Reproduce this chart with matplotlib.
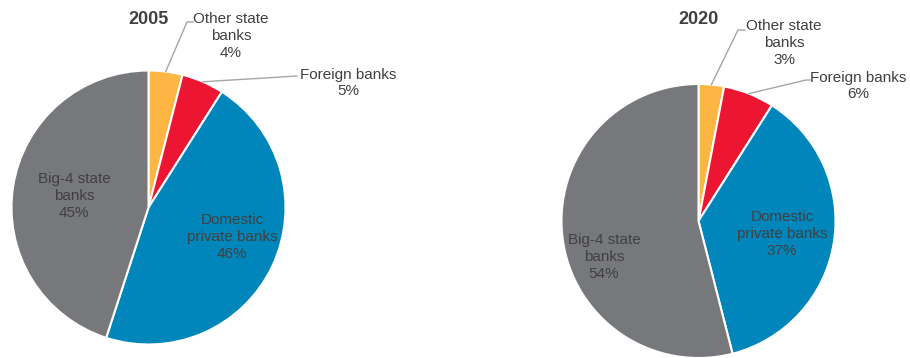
import numpy as np
import matplotlib.pyplot as plt

plt.rcParams['font.family'] = ['Liberation Sans', 'DejaVu Sans']

categories = ['Other state\nbanks', 'Foreign banks', 'Domestic\nprivate banks', 'Big-4 state\nbanks']
years = ['2005', '2020']
shares_2005 = [4, 5, 46, 45]
shares_2020 = [3, 6, 37, 54]
colors = ['#FDB643', '#EC1532', '#0086BA', '#77787B']

text_color = '#404040'

fig = plt.figure(figsize=(9.1, 3.58), dpi=100)
ax = fig.add_axes([0, 0, 1, 1])

R = 137
# layout per pie: centre, label centres, leader elbows (pixel coords, y from top)
layouts = [
    dict(center=(148.5, 207.5),
         labels=[(231, 36), (348, 83), (232, 237), (74, 196)],
         leaders={0: [(187, 22), (193, 22)], 1: [(297, 76)]}),
    dict(center=(698.5, 221),
         labels=[(784, 43), (858, 86), (782, 234), (604, 257)],
         leaders={0: [(738, 30), (745, 30)], 1: [(806, 80), (810, 80)]}),
]


def flip(p):
    return (p[0], 358 - p[1])


for year, shares, lay in zip(years, [shares_2005, shares_2020], layouts):
    cx, cy = flip(lay['center'])
    wedges, _ = ax.pie(shares, colors=colors, startangle=90, counterclock=False,
                       center=(cx, cy), radius=R,
                       wedgeprops=dict(edgecolor='white', linewidth=1.5))
    ax.text(cx, 358 - 20, year, ha='center', va='center', fontsize=13,
            fontweight='bold', color=text_color)

    total = sum(shares)
    cum = np.cumsum([0] + shares)
    for i, (name, val) in enumerate(zip(categories, shares)):
        tx, ty = flip(lay['labels'][i])
        ax.text(tx, ty, f'{name}\n{val}%', ha='center', va='center',
                fontsize=11, color=text_color, linespacing=1.25)
        if i in lay['leaders']:
            mid = (cum[i] + val / 2) / total * 360
            sx = cx + R * np.sin(np.radians(mid))
            sy = cy + R * np.cos(np.radians(mid))
            pts = [(sx, sy)] + [flip(p) for p in lay['leaders'][i]]
            xs, ys = zip(*pts)
            ax.plot(xs, ys, color='#A6A6A6', linewidth=1)

# pie() resets the limits, so fix the pixel frame afterwards
ax.set_xlim(0, 910)
ax.set_ylim(0, 358)
ax.set_aspect('equal')
ax.axis('off')

fig.savefig('out.png', dpi=100)
